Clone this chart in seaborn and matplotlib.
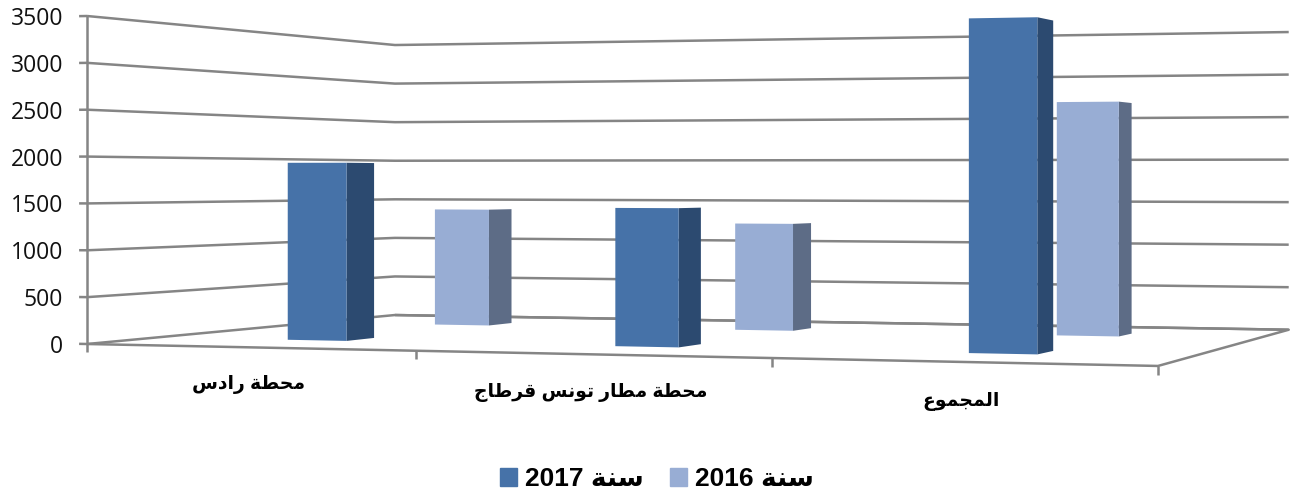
import numpy as np
import matplotlib
matplotlib.use("Agg")
import matplotlib.pyplot as plt
from matplotlib.patches import Patch
import seaborn as sns

# ---- data ----
categories = ["محطة رادس", "محطة مطار تونس قرطاج", "المجموع"]
series_names = ["سنة 2017", "سنة 2016"]
values_2017 = [1940, 1460, 3400]
values_2016 = [1395, 1245, 2640]
y_ticks = [0, 500, 1000, 1500, 2000, 2500, 3000, 3500]

# ---- minimal Arabic shaping (matplotlib has no shaping/bidi) ----
FORMS = {  # isolated, final, initial, medial
    "ا": (0xFE8D, 0xFE8E, None, None), "د": (0xFEA9, 0xFEAA, None, None),
    "ر": (0xFEAD, 0xFEAE, None, None), "و": (0xFEED, 0xFEEE, None, None),
    "ة": (0xFE93, 0xFE94, None, None),
    "م": (0xFEE1, 0xFEE2, 0xFEE3, 0xFEE4), "ح": (0xFEA1, 0xFEA2, 0xFEA3, 0xFEA4),
    "ط": (0xFEC1, 0xFEC2, 0xFEC3, 0xFEC4), "س": (0xFEB1, 0xFEB2, 0xFEB3, 0xFEB4),
    "ت": (0xFE95, 0xFE96, 0xFE97, 0xFE98), "ن": (0xFEE5, 0xFEE6, 0xFEE7, 0xFEE8),
    "ق": (0xFED5, 0xFED6, 0xFED7, 0xFED8), "ج": (0xFE9D, 0xFE9E, 0xFE9F, 0xFEA0),
    "ل": (0xFEDD, 0xFEDE, 0xFEDF, 0xFEE0), "ع": (0xFEC9, 0xFECA, 0xFECB, 0xFECC),
}


def shape_word(word):
    out = []
    for i, ch in enumerate(word):
        if ch not in FORMS:
            out.append(ch)
            continue
        iso, fin, ini, med = FORMS[ch]
        prev_joins = i > 0 and word[i - 1] in FORMS and FORMS[word[i - 1]][2] is not None
        next_joins = i < len(word) - 1 and word[i + 1] in FORMS and ini is not None
        if prev_joins and next_joins:
            code = med
        elif prev_joins:
            code = fin
        elif next_joins:
            code = ini
        else:
            code = iso
        out.append(chr(code))
    return "".join(reversed(out))


def visual(text):
    tokens = text.split(" ")[::-1]
    return " ".join(t if t[0].isdigit() else shape_word(t) for t in tokens)


# ---- style ----
sns.set_theme(style="white")
plt.rcParams["font.family"] = ["Liberation Sans", "DejaVu Sans"]
front_colors = sns.color_palette(["#4672a8", "#98adD4"])
side_colors = sns.color_palette(["#2c4a70", "#5d6c86"])
grid_color = "#858585"
W, H = 1297, 491

fig = plt.figure(figsize=(W / 100, H / 100), dpi=100, facecolor="white")
ax = fig.add_axes([0, 0, 1, 1], projection="3d")
ax.apply_aspect = lambda position=None: None
ax.set_xticks([])
ax.set_yticks([])
ax.set_zticks([])
ax.set_axis_off()

# camera of the reference chart: (category, depth, value, 1) -> pixel (homogeneous)
camera = np.array([
    [940.1 / 3, 392.8, 0.0, 87.0],
    [-19.4 / 3, 38.7, -328.0 / 3500, 344.0],
    [-0.02, 1.0, 0.0, -3.0],
    [-0.113 / 3, 0.2148, 0.0, 1.0],
])


def get_proj():
    vl = ax.viewLim
    to_view = np.array([
        [vl.width / W, 0, 0, vl.x0],
        [0, -vl.height / H, 0, vl.y0 + vl.height],
        [0, 0, 1, 0],
        [0, 0, 0, 1],
    ])
    return to_view @ camera


ax.get_proj = get_proj
ax.computed_zorder = False


def label_at(x, depth, z, text, **kw):
    """Place a 2D label at the projected position of a chart coordinate."""
    px, py, _, w = camera @ np.array([x, depth, z, 1.0])
    ax.text2D(px / w / W, 1 - py / w / H, text, transform=ax.transAxes, **kw)


# ---- walls, floor, ticks ----
line_kw = dict(color=grid_color, lw=1.8, solid_capstyle="butt", zorder=1)
n = len(categories)
for v in y_ticks:
    ax.plot([0, 0, n], [0, 1, 1], [v, v, v], **line_kw)
    ax.plot([-0.025, 0], [0, 0], [v, v], **line_kw)
    label_at(-0.075, 0, v, str(v), ha="right", va="center_baseline", fontsize=16.5,
             family=["Open Sans"], color="#111111")
ax.plot([0, 0], [0, 0], [0, y_ticks[-1]], **line_kw)
ax.plot([0, n, n, 0], [0, 0, 1, 1], [0, 0, 0, 0], **line_kw)
for i in range(n + 1):
    ax.plot([i, i], [0, 0], [0, -85], **line_kw)

# ---- bars ----
clear = (0, 0, 0, 0)
bar_left, bar_width = 0.415, 0.185
depth_start = [0.20, 0.705]
depth_size = [0.09, 0.09]
for s, vals in enumerate([values_2017, values_2016]):
    for i, val in enumerate(vals):
        ax.bar3d([i + bar_left], [depth_start[s]], [0], bar_width, depth_size[s], [val],
                 color=[clear, clear, front_colors[s], clear, clear, side_colors[s]],
                 shade=False, zorder=3 - s, linewidth=0)

ax.set_xlim3d(0, n)
ax.set_ylim3d(0, 1)
ax.set_zlim3d(0, y_ticks[-1])

# ---- category labels ----
for i, name in enumerate(categories):
    label_at(i + 0.5, 0, -385, visual(name), ha="center", va="center",
             fontsize=13.5, fontweight="bold", color="black")

# ---- legend ----
handles = [Patch(color=c) for c in front_colors]
fig.legend(handles, [visual(s) for s in series_names], ncol=2, frameon=False,
           loc="center", bbox_to_anchor=(657 / W, 1 - 479 / H),
           prop={"size": 19, "weight": "bold"}, handlelength=0.65, handleheight=0.65,
           handletextpad=0.3, columnspacing=1.0, labelcolor="black")

fig.savefig("out.png", dpi=100)
